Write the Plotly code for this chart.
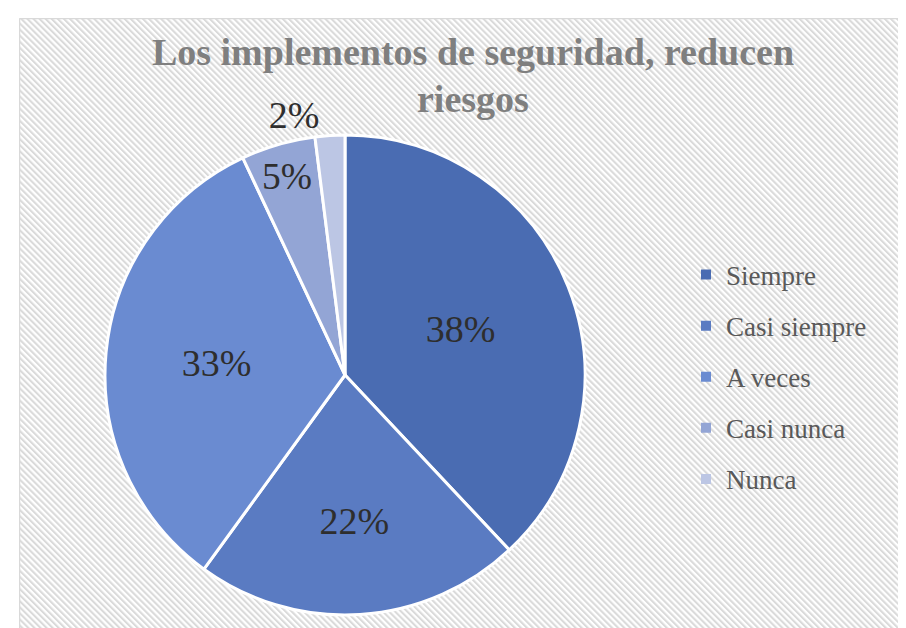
import base64
import plotly.graph_objects as go

categories = ["Siempre", "Casi siempre", "A veces", "Casi nunca", "Nunca"]
values = [38, 22, 33, 5, 2]
colors = ["#4a6cb2", "#5a7bc2", "#6a8bd1", "#93a5d5", "#bcc6e4"]
text_positions = ["inside", "inside", "inside", "inside", "outside"]
title_line1 = "Los implementos de seguridad, reducen"
title_line2 = "riesgos"

W, H = 906, 628
bx, by = 11, 10
bw, bh = W - bx, H - by

svg = f'''<svg xmlns="http://www.w3.org/2000/svg" width="{bw}" height="{bh}" viewBox="0 0 {bw} {bh}">
<defs><pattern id="p" width="4.3" height="4.3" patternUnits="userSpaceOnUse" patternTransform="rotate(-45)">
<rect x="0" y="0" width="2.1" height="4.3" fill="#dadada"/></pattern></defs>
<rect x="0" y="0" width="{bw}" height="{bh}" fill="#ffffff"/>
<rect x="0" y="0" width="{bw}" height="{bh}" fill="url(#p)"/>
<line x1="0.5" y1="0.5" x2="{bw}" y2="0.5" stroke="#d9d9d9" stroke-width="1.5"/>
<line x1="0.5" y1="0.5" x2="0.5" y2="{bh}" stroke="#d9d9d9" stroke-width="1.5"/>
</svg>'''
uri = "data:image/svg+xml;base64," + base64.b64encode(svg.encode()).decode()

serif = "'Liberation Serif', 'Times New Roman', serif"
label_font = dict(family=serif, size=38, color="#2e2e2e")

fig = go.Figure()
cx, cy, r = 337, 367, 240
fig.add_trace(go.Pie(
    labels=categories, values=values, sort=False, direction="clockwise", rotation=0,
    marker=dict(colors=colors, line=dict(color="white", width=3)),
    texttemplate="%{percent:.0%}", textposition=text_positions,
    insidetextorientation="horizontal",
    textfont=label_font, insidetextfont=label_font, outsidetextfont=label_font,
    showlegend=False, hoverinfo="label+percent",
    domain=dict(x=[(cx - r) / W, (cx + r) / W], y=[1 - (cy + r) / H, 1 - (cy - r) / H]),
))
for c, col in zip(categories, colors):
    fig.add_trace(go.Scatter(x=[None], y=[None], mode="markers", name=c, legendgroup=c,
                             marker=dict(symbol="square", size=10, color=col), hoverinfo="skip"))

fig.update_layout(
    width=W, height=H, margin=dict(l=0, r=0, t=0, b=0),
    font=dict(family=serif, color="#404040"),
    paper_bgcolor="white", plot_bgcolor="rgba(0,0,0,0)",
    xaxis=dict(visible=False), yaxis=dict(visible=False),
    images=[dict(source=uri, xref="paper", yref="paper", x=bx / W, y=1 - by / H,
                 sizex=bw / W, sizey=bh / H, sizing="stretch", layer="below",
                 xanchor="left", yanchor="top")],
    title=dict(text=title_line1, x=465 / W, xanchor="center", y=1 - 30 / H, yanchor="top",
               font=dict(family=serif, size=38, color="#7f7f7f", weight="bold")),
    annotations=[dict(text=title_line2, xref="paper", yref="paper", x=465 / W, y=1 - 68 / H,
                      xanchor="center", yanchor="top", showarrow=False,
                      font=dict(family=serif, size=38, color="#7f7f7f", weight="bold"))],
    legend=dict(x=678 / W, xanchor="left", y=1 - 369 / H, yanchor="middle",
                font=dict(family=serif, size=27, color="#595959"),
                traceorder="grouped", tracegroupgap=13, bgcolor="rgba(0,0,0,0)"),
)
fig.write_html("out.html")
